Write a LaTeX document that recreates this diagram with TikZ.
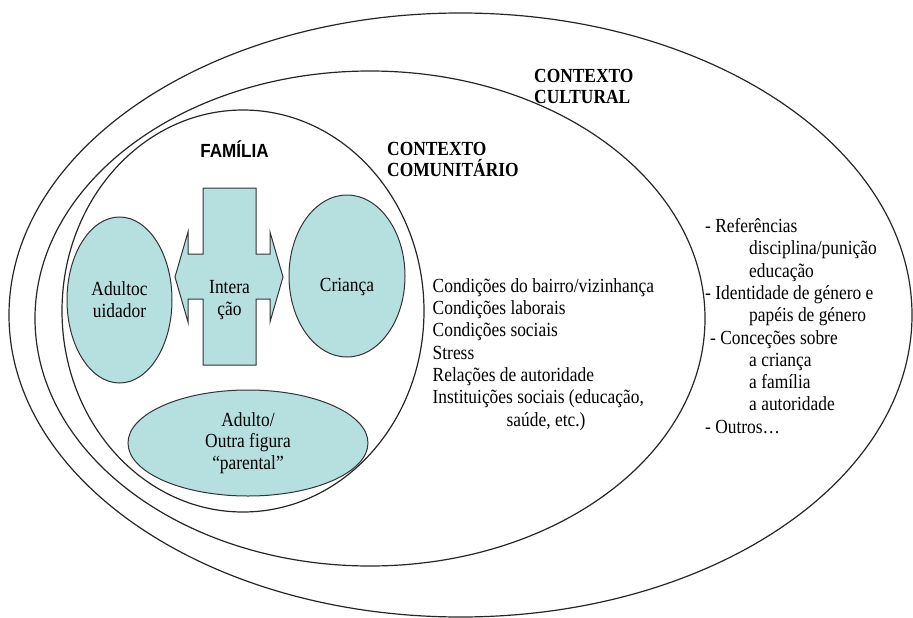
\documentclass[tikz,border=0pt]{standalone}
\usepackage{fontspec}
\setmainfont{Liberation Serif}[FakeStretch=0.87]
\newfontfamily\famfont{Liberation Sans}[FakeStretch=0.9]
\usepackage{tikz}
\usetikzlibrary{shapes.geometric}
\definecolor{famfill}{RGB}{182,223,224}

\begin{document}
\begin{tikzpicture}[
      x=1pt,y=-1pt,
      font=\fontsize{20}{22.3}\selectfont,
      ring/.style={ellipse,draw=black!85,line width=1.2pt,inner sep=0pt},
      pod/.style={ellipse,draw=black!80,fill=famfill,line width=1pt,inner sep=0pt,align=center},
      blob/.style={draw=black!80,fill=famfill,line width=1pt},
      ttl/.style={font=\bfseries\fontsize{20}{21}\selectfont,align=left,inner sep=0pt,anchor=north west},
      lst/.style={align=left,inner sep=0pt,anchor=north west}
    ]
    \useasboundingbox (0,0) rectangle (913,618);
    \node[ring,minimum width=903pt,minimum height=604pt] (cultural) at (460.5,315) {};
    \node[ring,minimum width=670pt,minimum height=495pt] (comunitario) at (370,318.5) {};
    \node[ring,minimum width=362pt,minimum height=402pt] (familia) at (243,311) {};
    \node[ttl] (cultitle) at (534,69.5) {CONTEXTO\\CULTURAL};
    \node[ttl] (comtitle) at (387,142.5) {CONTEXTO\\COMUNITÁRIO};
    \node[anchor=base,inner sep=0pt,font=\famfont\bfseries\fontsize{19}{21}\selectfont] (famtitle) at (234.5,157) {FAMÍLIA};
    \node[pod,minimum width=105pt,minimum height=166pt] (adulto) at (119.5,300) {Adultoc\\uidador};
    \node[pod,minimum width=116pt,minimum height=162pt] (crianca) at (347,276) {};
    \node (criancatxt) at (347,287) {Criança};
    \draw[blob] (203,188) -- (256,188) -- (256,254) -- (270,254) -- (270,232) -- (283,277)
      -- (270,322) -- (270,299) -- (256,299) -- (256,365) -- (203,365) -- (203,299)
      -- (188,299) -- (188,322) -- (175,277) -- (188,232) -- (188,254) -- (203,254) -- cycle;
    \node[align=center] (interacao) at (229.5,300) {Intera\\ção};
    \node[pod,minimum width=240pt,minimum height=106pt,font=\fontsize{20}{21.6}\selectfont] (outra) at (248,443) {Adulto/\\Outra figura\\“parental”};
    \node[lst] (comlist) at (432.5,278.3) {Condições do bairro/vizinhança\\Condições laborais\\Condições sociais\\Stress\\Relações de autoridade\\Instituições sociais (educação,\\\hspace*{74pt}saúde, etc.)};
    \node[lst] (cultlist) at (705,218.3) {- Referências\\\hspace*{44pt}disciplina/punição\\\hspace*{44pt}educação\\- Identidade de género e\\\hspace*{44pt}papéis de género\\\hspace*{5pt}- Conceções sobre\\\hspace*{44pt}a criança\\\hspace*{44pt}a família\\\hspace*{44pt}a autoridade\\- Outros…};
\end{tikzpicture}
\end{document}
